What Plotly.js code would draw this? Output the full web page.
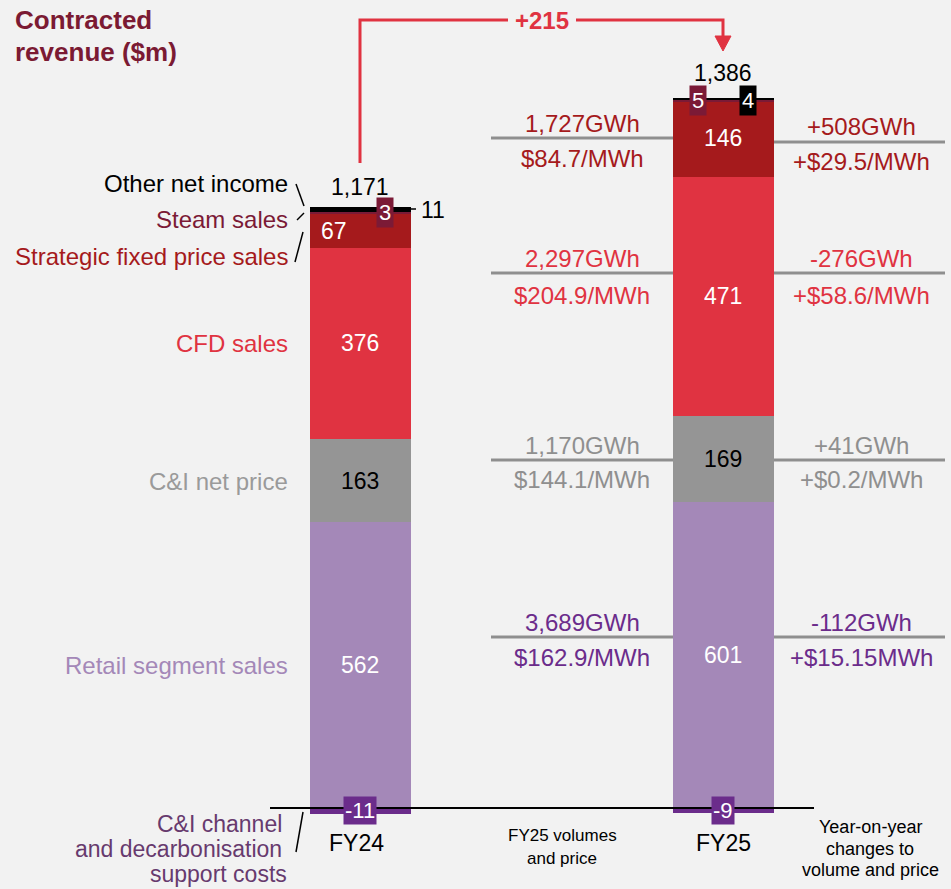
<!DOCTYPE html>
<html>
<head>
<meta charset="utf-8">
<script src="https://cdn.plot.ly/plotly-3.0.1.min.js"></script>
<style>html,body{margin:0;padding:0;background:#f2f2f2;}#chart{width:951px;height:889px;}</style>
</head>
<body>
<div id="chart"></div>
<script>
// ---------- DATA ----------
const categories = ['FY24', 'FY25'];
const retailSales = [562, 601];
const ciNetPrice = [163, 169];
const cfdSales = [376, 471];
const strategicSales = [67, 146];
const steamSales = [3, 5];
const otherIncome = [11, 4];
const channelCosts = [-11, -9];
const totalLabels = ['1,171', '1,386'];
const changeLabel = '+215';
const segmentNames = ['Other net income', 'Steam sales', 'Strategic fixed price sales', 'CFD sales', 'C&I net price', 'Retail segment sales'];
const costNameLines = ['C&I channel', 'and decarbonisation', 'support costs'];
const volumeFY25 = ['1,727GWh', '2,297GWh', '1,170GWh', '3,689GWh'];
const priceFY25 = ['$84.7/MWh', '$204.9/MWh', '$144.1/MWh', '$162.9/MWh'];
const volumeChange = ['+508GWh', '-276GWh', '+41GWh', '-112GWh'];
const priceChange = ['+$29.5/MWh', '+$58.6/MWh', '+$0.2/MWh', '+$15.15MWh'];

// ---------- STYLE ----------
const W = 951, H = 889;
const X0PX = 360, DXPX = 363, ZEROPX = 808, PXPERUNIT = 0.5088;
const X = px => (px - X0PX) / DXPX;
const Y = py => (ZEROPX - py) / PXPERUNIT;
const FONT = '"Liberation Sans", Arial, sans-serif';
const C = {
  retail: '#a488b8', ci: '#959595', cfd: '#e03341', strat: '#a51a1c',
  steam: '#7b1a36', other: '#000000', cost: '#6b2c8b', title: '#7b1a33',
  grayText: '#8f8f8f', purpleText: '#6b2c8b', costText: '#673a6e', line: '#8f8f8f'
};
const xs = [0, 1];
const BARW = 101 / DXPX;
const totalShiftPx = [20, 25];

function barTrace(vals, color) {
  return { type: 'bar', x: xs, y: vals, width: BARW, marker: { color: color, line: { width: 0 } }, hoverinfo: 'skip', showlegend: false };
}
const traces = [
  barTrace(retailSales, C.retail),
  barTrace(ciNetPrice, C.ci),
  barTrace(cfdSales, C.cfd),
  barTrace(strategicSales, C.strat),
  barTrace(steamSales, C.steam),
  barTrace(otherIncome, C.other),
  barTrace(channelCosts, C.cost)
];

const ann = [];
function txt(x, y, text, opt) {
  ann.push(Object.assign({ x: x, y: y, xref: 'x', yref: 'y', text: text, showarrow: false,
    font: { family: FONT, size: 24, color: '#000' }, xanchor: 'center', yanchor: 'middle' }, opt || {}));
}

// segment value labels
xs.forEach((xv, i) => {
  const r = retailSales[i], c = ciNetPrice[i], f = cfdSales[i], s = strategicSales[i], st = steamSales[i], o = otherIncome[i];
  txt(xv, r / 2, String(r), { font: { family: FONT, size: 23, color: '#fff' } });
  txt(xv, r + c / 2, String(c), { font: { family: FONT, size: 23, color: '#000' } });
  txt(xv, r + c + f / 2, String(f), { font: { family: FONT, size: 23, color: '#fff' } });
  const top = r + c + f + s + st + o;
  txt(xv, top, totalLabels[i], { font: { family: FONT, size: 23, color: '#000' }, yshift: totalShiftPx[i] });
  txt(xv, 0, String(channelCosts[i]), { font: { family: FONT, size: 22, color: '#fff' }, bgcolor: C.cost, borderpad: 1, yshift: -2 });
});
// strategic labels
txt(X(334), strategicSales[0] / 2 + retailSales[0] + ciNetPrice[0] + cfdSales[0], String(strategicSales[0]), { font: { family: FONT, size: 23, color: '#fff' } });
txt(1, retailSales[1] + ciNetPrice[1] + cfdSales[1] + strategicSales[1] / 2 + 2, String(strategicSales[1]), { font: { family: FONT, size: 23, color: '#fff' } });
// small boxes
const steamMid0 = retailSales[0] + ciNetPrice[0] + cfdSales[0] + strategicSales[0] + steamSales[0] / 2;
txt(X(385), steamMid0, String(steamSales[0]), { font: { family: FONT, size: 22, color: '#fff' }, bgcolor: C.steam, borderpad: 2, yshift: 0 });
const steamMid1 = retailSales[1] + ciNetPrice[1] + cfdSales[1] + strategicSales[1] + steamSales[1] / 2;
txt(1 + X(698) - X(723) + X(360), steamMid1, String(steamSales[1]), { font: { family: FONT, size: 22, color: '#fff' }, bgcolor: C.steam, borderpad: 2, yshift: 1 });
txt(1 + X(748) - X(723) + X(360), steamMid1, String(otherIncome[1]), { font: { family: FONT, size: 22, color: '#fff' }, bgcolor: '#000', borderpad: 2, yshift: 1 });
const top0 = retailSales[0] + ciNetPrice[0] + cfdSales[0] + strategicSales[0] + steamSales[0] + otherIncome[0];
txt(X(419), top0 - otherIncome[0] / 2, String(otherIncome[0]), { font: { family: FONT, size: 23, color: '#000' }, xanchor: 'left', yshift: -1 });

// left category labels
const leftY = [183, 219, 256, 343, 481, 665];
const leftCol = ['#000', C.steam, C.strat, C.cfd, '#9a9a9a', C.retail];
segmentNames.forEach((n, i) => txt(X(290), Y(leftY[i]), n, { xanchor: 'right', font: { family: FONT, size: 24, color: leftCol[i] } }));
const costY = [824, 849, 874];
costNameLines.forEach((n, i) => txt(X(i === 2 ? 289 : 284), Y(costY[i]), n, { xanchor: 'right', font: { family: FONT, size: 23, color: C.costText } }));

// title
txt(X(13), Y(20), 'Contracted', { xanchor: 'left', font: { family: FONT, size: 26, color: C.title, weight: 'bold' } });
txt(X(13), Y(52), 'revenue ($m)', { xanchor: 'left', font: { family: FONT, size: 26, color: C.title, weight: 'bold' } });
txt(X(542), Y(20), changeLabel, { font: { family: FONT, size: 24, color: C.cfd, weight: 'bold' } });

// bar category labels
txt(0, Y(843), categories[0], { font: { family: FONT, size: 23, color: '#000' }, xshift: -4 });
txt(1, Y(843), categories[1], { font: { family: FONT, size: 23, color: '#000' } });
txt(X(562), Y(835), 'FY25 volumes', { font: { family: FONT, size: 17, color: '#000' } });
txt(X(562), Y(858), 'and price', { font: { family: FONT, size: 17, color: '#000' } });
['Year-on-year', 'changes to', 'volume and price'].forEach((t, i) => txt(X(870), Y(827 + i * 21.5), t, { font: { family: FONT, size: 18, color: '#000' } }));

// volume/price annotations
const groupCol = [C.strat, C.cfd, C.grayText, C.purpleText];
const midTop = [123, 258, 445, 622], midLine = [138, 273, 460, 637], midBot = [158, 295, 479, 657];
const rTop = [126, 258, 445, 622], rLine = [142, 273, 460, 637], rBot = [161, 295, 479, 657];
const shapes = [];
for (let i = 0; i < 4; i++) {
  txt(X(582), Y(midTop[i]), volumeFY25[i], { font: { family: FONT, size: 24, color: groupCol[i] } });
  txt(X(582), Y(midBot[i]), priceFY25[i], { font: { family: FONT, size: 24, color: groupCol[i] } });
  txt(X(861), Y(rTop[i]), volumeChange[i], { font: { family: FONT, size: 24, color: groupCol[i] } });
  txt(X(861), Y(rBot[i]), priceChange[i], { font: { family: FONT, size: 24, color: groupCol[i] } });
  shapes.push({ type: 'line', xref: 'x', yref: 'y', x0: X(491), x1: X(673), y0: Y(midLine[i]), y1: Y(midLine[i]), line: { color: C.line, width: 3 } });
  shapes.push({ type: 'line', xref: 'x', yref: 'y', x0: X(774), x1: X(945), y0: Y(rLine[i]), y1: Y(rLine[i]), line: { color: C.line, width: 3 } });
}
// zero line
shapes.push({ type: 'line', xref: 'x', yref: 'y', x0: X(270), x1: X(814), y0: 0, y1: 0, line: { color: '#000', width: 2 } });
// leader lines
function seg(a, b, c, d) { shapes.push({ type: 'line', xref: 'x', yref: 'y', x0: X(a), y0: Y(b), x1: X(c), y1: Y(d), line: { color: '#000', width: 1.5 } }); }
seg(296, 184, 304, 206);
seg(297, 220, 304, 213);
seg(295, 262, 303, 232);
seg(303, 812, 296, 852);
seg(411, 209, 416, 209);
// arrow
const pth = pts => pts.map((p, i) => (i ? 'L' : 'M') + X(p[0]) + ',' + Y(p[1])).join(' ');
shapes.push({ type: 'path', xref: 'x', yref: 'y', path: pth([[360, 163], [360, 20], [508, 20]]), line: { color: C.cfd, width: 3 } });
shapes.push({ type: 'path', xref: 'x', yref: 'y', path: pth([[576, 20], [723, 20], [723, 38]]), line: { color: C.cfd, width: 3 } });
shapes.push({ type: 'path', xref: 'x', yref: 'y', path: pth([[715, 36], [731, 36], [723, 51]]) + ' Z', fillcolor: C.cfd, line: { color: C.cfd, width: 1 } });

const layout = {
  width: W, height: H,
  margin: { l: 0, r: 0, t: 0, b: 0, pad: 0 },
  paper_bgcolor: '#f2f2f2', plot_bgcolor: '#f2f2f2',
  barmode: 'relative', bargap: 0,
  showlegend: false,
  xaxis: { range: [X(0), X(W)], visible: false, fixedrange: true },
  yaxis: { range: [Y(H), Y(0)], visible: false, fixedrange: true },
  annotations: ann,
  shapes: shapes
};
Plotly.newPlot('chart', traces, layout, { staticPlot: true, displayModeBar: false });
</script>
</body>
</html>
